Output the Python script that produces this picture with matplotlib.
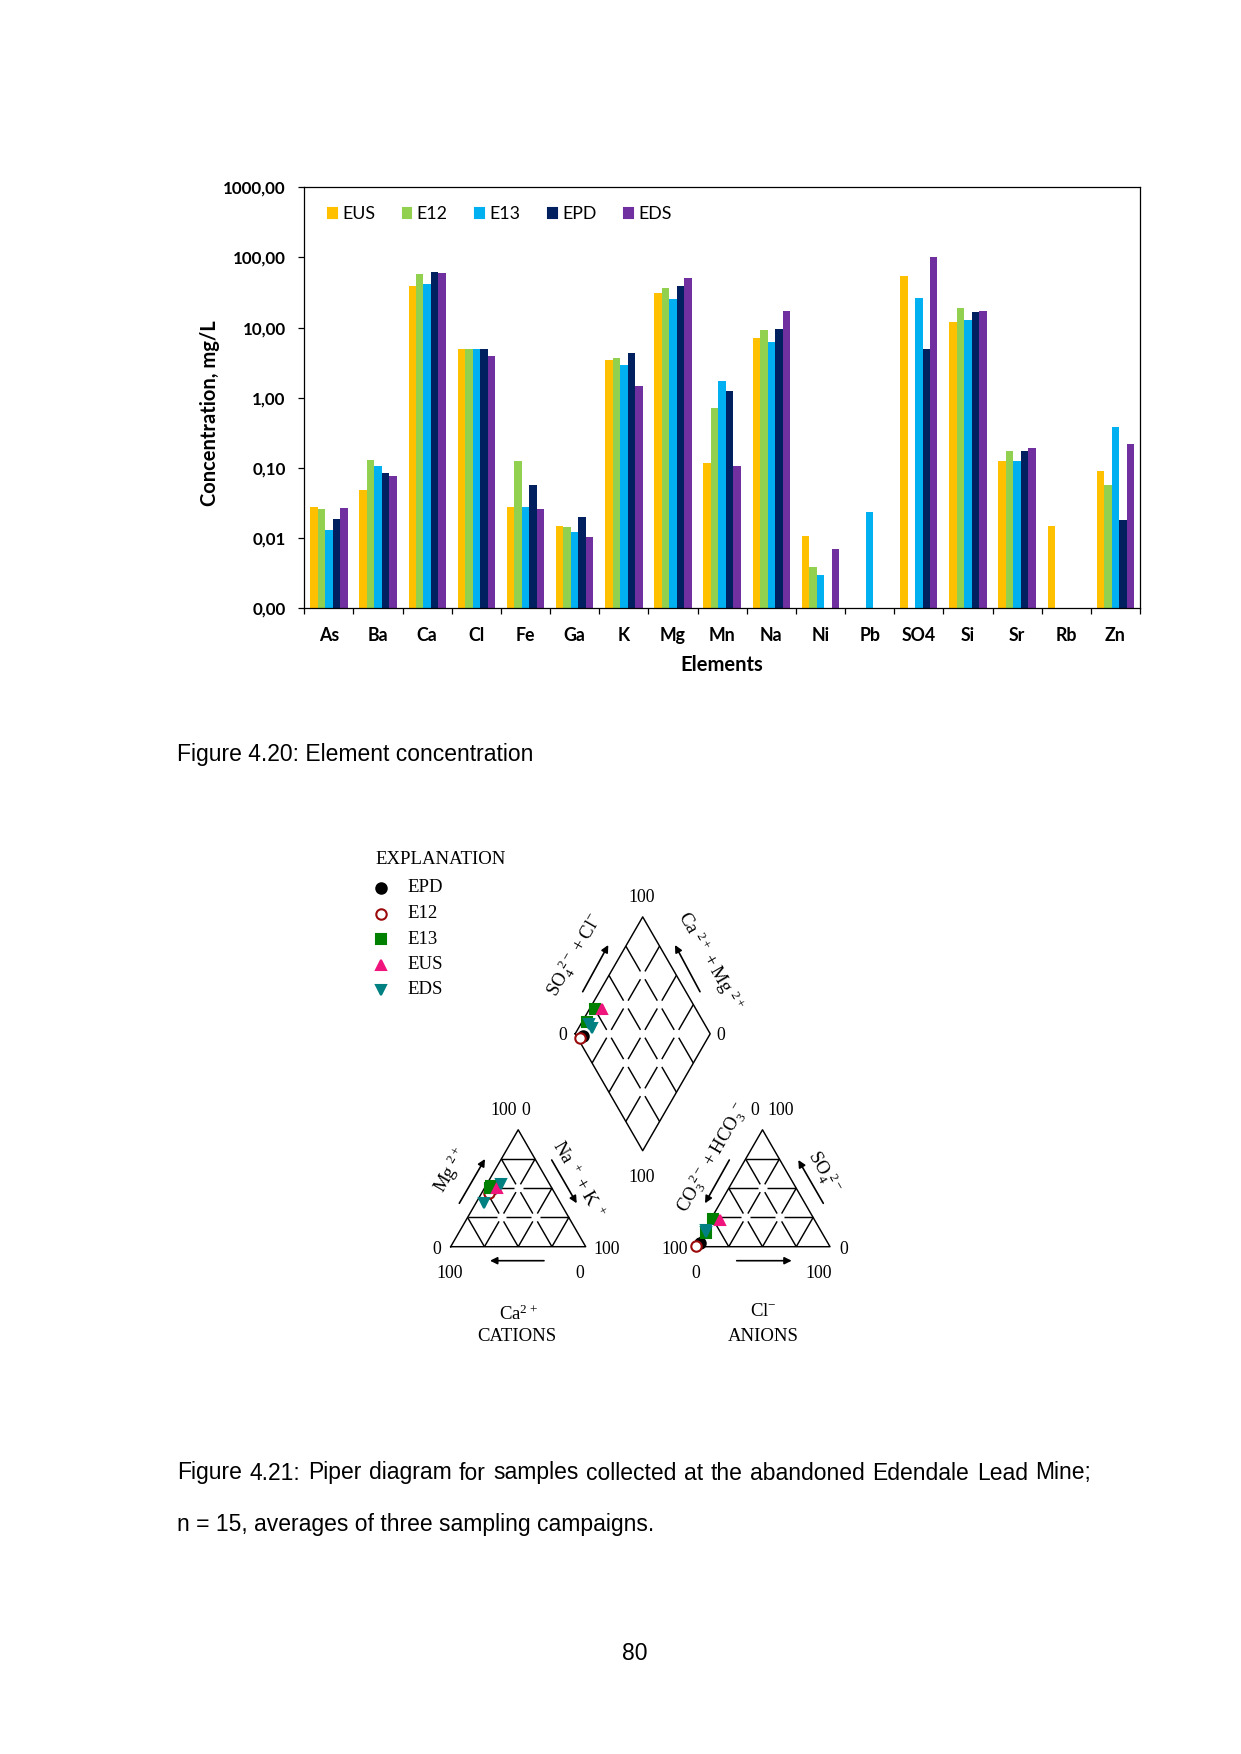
import numpy as np
from matplotlib import pyplot as plt
from matplotlib.patches import Patch

# page
W, H = 1241, 1754
DPI = 150
SANS = ["Lato", "DejaVu Sans"]
SERIF = ["Liberation Serif", "DejaVu Serif"]
ARIAL = ["Liberation Sans", "DejaVu Sans"]

# bar chart data (mg/L)
nan = np.nan
elements = ["As", "Ba", "Ca", "Cl", "Fe", "Ga", "K", "Mg", "Mn", "Na", "Ni", "Pb", "SO4", "Si", "Sr", "Rb", "Zn"]
sites = ["EUS", "E12", "E13", "EPD", "EDS"]
eus = [0.0274, 0.0489, 38.6, 4.94, 0.0277, 0.0147, 3.44, 31.4, 0.116, 7.16, 0.0107, nan, 54.2, 12.0, 0.125, 0.0148, 0.090]
e12 = [0.0257, 0.128, 57.8, 4.94, 0.126, 0.0145, 3.64, 36.6, 0.713, 9.21, 0.0039, nan, nan, 18.9, 0.172, nan, 0.058]
e13 = [0.0132, 0.107, 41.7, 4.94, 0.0279, 0.0122, 2.98, 25.2, 1.71, 6.21, 0.00294, 0.0235, 26.6, 12.8, 0.125, nan, 0.382]
epd = [0.019, 0.0843, 61.8, 4.94, 0.0569, 0.0201, 4.37, 39.0, 1.23, 9.52, nan, nan, 4.94, 16.6, 0.176, nan, 0.0181]
eds = [0.0265, 0.0773, 60.4, 3.93, 0.0259, 0.0104, 1.47, 50.7, 0.106, 17.4, 0.0069, nan, 100.0, 17.2, 0.192, nan, 0.223]
bar_colors = ["#FFC000", "#92D050", "#00B0F0", "#002060", "#7030A0"]
yticks = [0.001, 0.01, 0.1, 1, 10, 100, 1000]
ytick_labels = ["0,00", "0,01", "0,10", "1,00", "10,00", "100,00", "1000,00"]

# piper data (percent of meq), one row per plotted point
piper_legend = ["EPD", "E12", "E13", "EUS", "EDS"]
pt_sample = ["EPD", "E12", "E13", "E13", "EUS", "EDS", "EDS"]
ca = [43, 49, 46, 44, 41, 36, 57]
mg = [50, 46, 50, 52, 50, 54, 37]
nak = [7, 5, 4, 4, 9, 10, 6]
hco3 = [95, 98.5, 75, 86, 70, 85, 85.5]
so4 = [3, 1, 24, 12, 23, 14, 13]
cl = [2, 0.5, 1, 2, 7, 1, 1.5]
styles = {
    "EPD": dict(marker="o", mfc="black", mec="black"),
    "E12": dict(marker="o", mfc="white", mec="#9B0A0A"),
    "E13": dict(marker="s", mfc="#008000", mec="#008000"),
    "EUS": dict(marker="^", mfc="#F0147D", mec="#F0147D"),
    "EDS": dict(marker="v", mfc="#008080", mec="#008080"),
}

fig = plt.figure(figsize=(W / DPI, H / DPI), dpi=DPI, facecolor="white")
page = fig.add_axes([0, 0, 1, 1])
page.set_xlim(0, W)
page.set_ylim(H, 0)
page.axis("off")

# ---------------- bar chart ----------------
left, right, top, bottom = 304.3, 1140.0, 187.3, 608.3
ax = fig.add_axes([left / W, 1 - bottom / H, (right - left) / W, (bottom - top) / H])
x = np.arange(len(elements))
w = 0.152
for i, (name, vals, c) in enumerate(zip(sites, [eus, e12, e13, epd, eds], bar_colors)):
    ax.bar(x + (i - 2) * w, vals, w, color=c, label=name, linewidth=0)
ax.set_yscale("log")
ax.set_ylim(1e-3, 1e3)
ax.set_xlim(-0.5, len(elements) - 0.5)
ax.yaxis.set_minor_locator(plt.NullLocator())
ax.set_yticks(yticks)
ax.set_yticklabels(ytick_labels, fontfamily=SANS, fontweight="bold", fontsize=8.2)
ax.set_xticks(x)
ax.set_xticklabels(elements, fontfamily=SANS, fontweight="bold", fontsize=8.5)
ax.set_xticks(np.arange(-0.5, len(elements)), minor=True)
ax.tick_params(axis="x", which="major", length=0, pad=9)
ax.tick_params(axis="x", which="minor", length=2.9, width=0.6, direction="out")
ax.tick_params(axis="y", length=2.9, width=0.6, pad=6, direction="out")
for s in ax.spines.values():
    s.set_linewidth(0.6)
handles = [Patch(color=c) for c in bar_colors]
ax.legend(handles, sites, ncol=5, loc="center left", bbox_to_anchor=(328 / W, 1 - 214 / H),
          bbox_transform=fig.transFigure, frameon=False, borderpad=0, borderaxespad=0,
          handlelength=0.5, handleheight=0.5, handletextpad=0.3, columnspacing=1.55,
          prop=dict(family=SANS, size=8.5))

page.text(210, 413, "Concentration, mg/L", rotation=90, ha="center", va="center",
          fontfamily=SANS, fontweight="bold", fontsize=9.7)
page.text(722, 665, "Elements", ha="center", va="center",
          fontfamily=SANS, fontweight="bold", fontsize=9.7)

page.text(177, 754, "Figure 4.20: Element concentration", ha="left", va="center",
          fontfamily=ARIAL, fontsize=11)

# ---------------- piper diagram ----------------
S = 135.0
HT = S * np.sqrt(3) / 2
cat0 = np.array([450.7, 1246.7])   # Ca 100 corner
an0 = np.array([695.0, 1246.7])    # HCO3 100 corner
dL = np.array([575.2, 1033.8])     # diamond left corner
LW = 0.7
GAP = 4.5


def tri_xy(origin, right_frac, top_frac):
    # right_frac: component at right corner, top_frac: component at apex
    xx = origin[0] + S * (right_frac + top_frac / 2)
    yy = origin[1] - HT * top_frac
    return np.array([xx, yy])


def dia_xy(a, b):
    # a: Na+K fraction, b: SO4+Cl fraction
    return dL + a * np.array([S / 2, HT]) + b * np.array([S / 2, -HT])


def broken(p0, p1, nseg):
    p0 = np.asarray(p0, float)
    p1 = np.asarray(p1, float)
    L = np.hypot(*(p1 - p0))
    if nseg <= 0 or L == 0:
        return
    u = (p1 - p0) / L
    step = L / nseg
    for k in range(nseg):
        a = p0 + u * (k * step + (GAP if k > 0 else 0))
        b = p0 + u * ((k + 1) * step - (GAP if k < nseg - 1 else 0))
        page.plot([a[0], b[0]], [a[1], b[1]], color="black", lw=LW, solid_capstyle="butt")


def triangle(origin):
    A = tri_xy(origin, 0, 0)
    B = tri_xy(origin, 1, 0)
    C = tri_xy(origin, 0, 1)
    page.plot([A[0], B[0], C[0], A[0]], [A[1], B[1], C[1], A[1]], color="black", lw=LW)
    for k in range(1, 4):
        f = k / 4
        n = 4 - k
        broken(tri_xy(origin, 0, f), tri_xy(origin, 1 - f, f), n)      # constant apex comp
        broken(tri_xy(origin, f, 0), tri_xy(origin, f, 1 - f), n)      # constant right comp
        broken(tri_xy(origin, 1 - f, 0), tri_xy(origin, 0, 1 - f), n)  # constant left comp


triangle(cat0)
triangle(an0)

Dl, Dt, Dr, Db = dia_xy(0, 0), dia_xy(0, 1), dia_xy(1, 1), dia_xy(1, 0)
page.plot([Dl[0], Dt[0], Dr[0], Db[0], Dl[0]], [Dl[1], Dt[1], Dr[1], Db[1], Dl[1]], color="black", lw=LW)
for k in range(1, 4):
    f = k / 4
    broken(dia_xy(f, 0), dia_xy(f, 1), 4)
    broken(dia_xy(0, f), dia_xy(1, f), 4)


def arrow(p0, p1):
    page.annotate("", xy=p1, xytext=p0,
                  arrowprops=dict(arrowstyle="-|>", lw=0.8, color="black",
                                  mutation_scale=7, shrinkA=0, shrinkB=0))


def ptext(xx, yy, s, size=8.5, rot=0):
    page.text(xx, yy, s, ha="center", va="center", rotation=rot, rotation_mode="anchor",
              fontfamily=SERIF, fontsize=size)


# diamond labels
ptext(641.7, 897, "100")
ptext(562.3, 1036, "0")
ptext(720.5, 1036, "0")
ptext(641.7, 1178, "100")
ptext(574, 955, r"$\mathregular{SO_4^{\ 2-}+Cl^{-}}$", 9, 60)
arrow((582.7, 991.7), (608.3, 945))
ptext(710, 961, r"$\mathregular{Ca^{\ 2+}+Mg^{\ 2+}}$", 9, -60)
arrow((700, 991.7), (675, 945))

# cation triangle labels
ptext(503.3, 1110.7, "100")
ptext(526, 1110.7, "0")
ptext(451, 1170, r"$\mathregular{Mg^{\ 2+}}$", 9, 60)
arrow((459.3, 1203.3), (485, 1159))
ptext(578, 1180, r"$\mathregular{Na^{\ +}+K^{\ +}}$", 9, -60)
arrow((551.7, 1160), (576.7, 1203.3))
ptext(436.7, 1249, "0")
ptext(606.7, 1249, "100")
ptext(450, 1274, "100")
ptext(580, 1274, "0")
arrow((544, 1260.7), (490, 1260.7))
ptext(518.3, 1314, r"$\mathregular{Ca^{2+}}$", 9)
ptext(516.7, 1336.7, "CATIONS", 9)

# anion triangle labels
ptext(754.3, 1110.7, "0")
ptext(780.7, 1110.7, "100")
ptext(712, 1158, r"$\mathregular{CO_3^{\ 2-}+HCO_3^{\ -}}$", 9, 60)
arrow((729.3, 1160), (705, 1203.3))
ptext(824, 1172, r"$\mathregular{SO_4^{\ 2-}}$", 9, -60)
arrow((823.3, 1203.3), (798.3, 1160))
ptext(675, 1249, "100")
ptext(843.3, 1249, "0")
ptext(696, 1274, "0")
ptext(818.3, 1274, "100")
arrow((736.7, 1260.7), (791.7, 1260.7))
ptext(763.3, 1312, r"$\mathregular{Cl^{-}}$", 9)
ptext(763.3, 1336.7, "ANIONS", 9)

# samples
for i, name in enumerate(pt_sample):
    st = styles[name]
    c_xy = tri_xy(cat0, nak[i] / 100, mg[i] / 100)
    a_xy = tri_xy(an0, cl[i] / 100, so4[i] / 100)
    d_xy = dia_xy(nak[i] / 100, (so4[i] + cl[i]) / 100)
    for p in (c_xy, a_xy, d_xy):
        page.plot(p[0], p[1], ls="none", ms=5.0, mew=1.0, **st)

# explanation
page.text(375, 860, "EXPLANATION", ha="left", va="center", fontfamily=SERIF, fontsize=9)
for k, name in enumerate(piper_legend):
    yy = 888 + k * 25.5
    page.plot(381, yy, ls="none", ms=5.0, mew=1.0, **styles[name])
    page.text(407.7, yy, name, ha="left", va="center", fontfamily=SERIF, fontsize=9)

# caption with justified first line
renderer = fig.canvas.get_renderer()
line1 = "Figure 4.21: Piper diagram for samples collected at the abandoned Edendale Lead Mine;"
words = line1.split()
objs = [page.text(0, 1473, wd, ha="left", va="center", fontfamily=ARIAL, fontsize=11) for wd in words]
widths = [o.get_window_extent(renderer).width for o in objs]
gap = (1091 - 177 - sum(widths)) / (len(words) - 1)
xpos = 177
for o, wd in zip(objs, widths):
    o.set_x(xpos)
    xpos += wd + gap
page.text(177, 1524, "n = 15, averages of three sampling campaigns.", ha="left", va="center",
          fontfamily=ARIAL, fontsize=11)

page.text(634.5, 1653, "80", ha="center", va="center", fontfamily=ARIAL, fontsize=11)

fig.savefig("out.png", dpi=DPI, facecolor="white")
